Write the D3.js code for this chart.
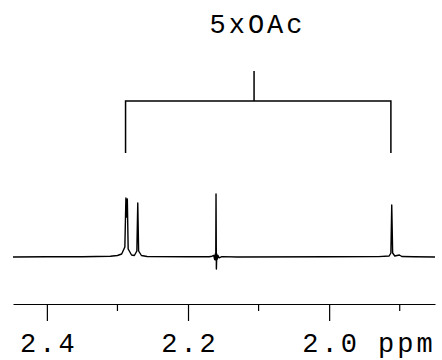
<!DOCTYPE html>
<html>
<head>
<meta charset="utf-8">
<script src="https://cdn.jsdelivr.net/npm/d3@7"></script>
<style>
  html, body { margin: 0; padding: 0; background: #fff; }
  svg { display: block; }
  text { font-family: "Courier New", "Liberation Mono", monospace; fill: #000; }
</style>
</head>
<body>
<svg id="chart" width="442" height="360"></svg>
<script>
// ---- data ----
const ppmValues = [2.448, 2.40, 2.35, 2.31, 2.300, 2.294, 2.2895, 2.2880, 2.2870, 2.2860, 2.2848, 2.280, 2.276,
  2.2725, 2.2712, 2.2700, 2.266, 2.258, 2.20, 2.17, 2.166, 2.1635, 2.1622, 2.1614, 2.1607, 2.1603, 2.1598,
  2.1592, 2.1585, 2.1575, 2.156, 2.152, 2.13, 2.00, 1.93, 1.915, 1.9125, 1.9113, 1.9100, 1.907, 1.9005,
  1.897, 1.88, 1.85];
const intensities = [0, 0.3, 0.3, 0.8, 1.5, 3, 10, 59, 40, 58, 8, 2, 1.5,
  6, 54, 6, 1.5, 0.5, 0.2, 0.3, 0.8, 1.5, -2.5, 3, -3, 63, -12,
  3, -2, 1.5, -0.8, 0.4, 0, 0.2, 0.4, 1, 4, 52, 4, 1, 2,
  0.5, 0.3, 0];
const majorTicks = [2.4, 2.2, 2.0];
const majorTickLabels = ["2.4", "2.2", "2.0"];
const minorTicks = [2.3, 2.1, 1.9];
const axisUnit = "ppm";
const groupLabel = "5xOAc";
const groupPeaks = [2.2885, 1.9125];   // bracket legs
const groupCenter = 2.1064;            // bracket stem
const bracketLegBottom = 104;          // intensity where legs end

// ---- scales ----
const svg = d3.select("#chart");
const x = d3.scaleLinear().domain([2.448, 1.850]).range([13, 435]);
const y = d3.scaleLinear().domain([0, 100]).range([257, 157]);
const FS = 27, LS = 3;

// ---- spectrum ----
const pts = ppmValues.map((p, i) => [p, intensities[i]]);
svg.append("path")
  .datum(pts)
  .attr("fill", "none")
  .attr("stroke", "#000")
  .attr("stroke-width", 1.4)
  .attr("stroke-linejoin", "round")
  .attr("d", d3.line().x(d => x(d[0])).y(d => y(d[1])));

// ---- axis ----
const axisY = 304;
const gAxis = svg.append("g").attr("transform", `translate(0,${axisY})`);
gAxis.call(d3.axisBottom(x).tickValues(majorTicks).tickSize(17).tickSizeOuter(0)
  .tickFormat((d, i) => majorTickLabels[i]));
gAxis.select(".domain").attr("stroke", "#000").attr("stroke-width", 1.2);
gAxis.selectAll(".tick line").attr("stroke", "#000").attr("stroke-width", 1.2);
gAxis.selectAll(".tick text")
  .attr("y", 48).attr("dy", 0)
  .attr("x", LS / 2)
  .attr("font-size", FS)
  .style("letter-spacing", LS + "px")
  .style("font-family", "'Courier New', 'Liberation Mono', monospace");

gAxis.selectAll(".minor").data(minorTicks).enter().append("line")
  .attr("class", "minor")
  .attr("x1", d => x(d)).attr("x2", d => x(d))
  .attr("y1", 0).attr("y2", 7)
  .attr("stroke", "#000").attr("stroke-width", 1.2);

svg.append("text")
  .attr("x", 378).attr("y", axisY + 48)
  .attr("text-anchor", "start")
  .attr("font-size", FS)
  .style("letter-spacing", LS + "px")
  .text(axisUnit);

// ---- bracket annotation ----
const bx1 = x(groupPeaks[0]), bx2 = x(groupPeaks[1]);
const bTop = 101, stemTop = 71;
const bMid = x(groupCenter);
svg.append("path")
  .attr("fill", "none")
  .attr("stroke", "#000")
  .attr("stroke-width", 1.5)
  .attr("d", `M${bx1},${y(bracketLegBottom)}V${bTop}H${bx2}V${y(bracketLegBottom)}M${bMid},${bTop}V${stemTop}`);

svg.append("text")
  .attr("x", 256 + LS / 2).attr("y", 33)
  .attr("text-anchor", "middle")
  .attr("font-size", FS)
  .style("letter-spacing", LS + "px")
  .text(groupLabel);
</script>
</body>
</html>
